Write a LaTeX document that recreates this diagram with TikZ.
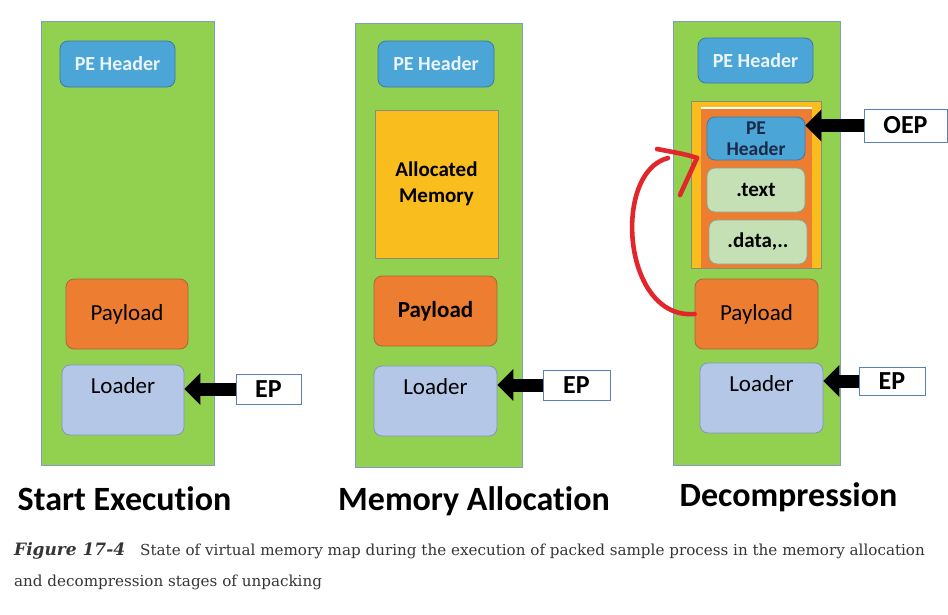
\documentclass[tikz,border=0pt]{standalone}
\usepackage{fontspec}
\setmainfont{Carlito}[Ligatures=NoCommon]
\newfontfamily\capfont{DejaVu Serif}
\usetikzlibrary{arrows.meta}
\definecolor{memgreen}{HTML}{92D050}
\definecolor{memframe}{HTML}{7F9DC4}
\definecolor{peblue}{HTML}{4BA5D6}
\definecolor{peborder}{HTML}{3B78A8}
\definecolor{payorange}{HTML}{ED7D31}
\definecolor{payborder}{HTML}{A9673A}
\definecolor{loadblue}{HTML}{B4C7E7}
\definecolor{loadborder}{HTML}{7F97BE}
\definecolor{allocyellow}{HTML}{F9BE1E}
\definecolor{allocborder}{HTML}{8C8C7A}
\definecolor{secgreen}{HTML}{C5E0B4}
\definecolor{secborder}{HTML}{8FA48A}
\definecolor{epborder}{HTML}{5B7FB8}
\definecolor{hdrtext}{HTML}{EAF5FB}
\definecolor{navytext}{HTML}{1B2A48}
\definecolor{handred}{HTML}{E2262B}
\definecolor{captext}{HTML}{353535}
\tikzset{
  memcol/.style={draw=memframe, fill=memgreen, line width=0.8pt, inner sep=0pt, minimum width=#1, minimum height=444pt},
  rbox/.style={draw, rounded corners=8pt, line width=0.8pt, inner sep=0pt, align=center},
  pehdr/.style={rbox, fill=peblue, draw=peborder, text=hdrtext, font=\fontsize{20}{22}\selectfont\bfseries, minimum width=115pt, minimum height=46pt},
  paybox/.style={rbox, fill=payorange, draw=payborder, font=\fontsize{23}{25}\selectfont, minimum width=122pt, minimum height=70pt},
  loadbox/.style={rbox, fill=loadblue, draw=loadborder, font=\fontsize{23}{25}\selectfont, minimum width=122pt, minimum height=70pt, text height=16pt, text depth=29pt},
  secbox/.style={rbox, fill=secgreen, draw=secborder, font=\fontsize{21}{23}\selectfont\bfseries, minimum width=98pt, minimum height=44pt},
  tagbox/.style={draw=epborder, fill=white, line width=0.8pt, inner sep=0pt, font=\fontsize{26}{28}\selectfont\bfseries},
  bigarrow/.style={line width=13pt, -{Triangle[length=16pt,width=31pt]}, black},
  title/.style={anchor=base, inner sep=0pt, font=\fontsize{34}{36}\selectfont\bfseries},
  redpen/.style={draw=handred, line width=4.6pt, line cap=round, line join=round}
}
\begin{document}
\begin{tikzpicture}[x=1pt,y=-1pt]
\useasboundingbox (0,0) rectangle (948,614);
% ---- Panel 1: Start Execution
\node[memcol=173pt] (green1) at (127.5,243) {};
\node[pehdr] (pe1) at (117.5,64) {PE Header};
\node[paybox] (pay1) at (127,314) {Payload};
\node[loadbox] (load1) at (123,400) {Loader};
\node[tagbox, minimum width=65pt, minimum height=30pt] (ep1) at (268.5,389) {EP};
\draw[bigarrow] (ep1.west) -- (ep1.west -| load1.east);
\node[title] (t1) at (124.5,510) {Start Execution};
% ---- Panel 2: Memory Allocation
\node[memcol=167pt] (green2) at (438.5,245) {};
\node[pehdr, minimum width=116pt] (pe2) at (436,64) {PE Header};
\node[draw=allocborder, fill=allocyellow, line width=0.8pt, inner sep=0pt, minimum width=123pt, minimum height=148pt, align=center, font=\fontsize{21}{26}\selectfont\bfseries] (alloc) at (436.5,184) {Allocated\\Memory};
\node[paybox, minimum width=123pt, font=\fontsize{23}{25}\selectfont\bfseries] (pay2) at (435.5,311) {Payload};
\node[loadbox, minimum width=123pt] (load2) at (435.5,401) {Loader};
\node[tagbox, minimum width=67pt, minimum height=30pt] (ep2) at (576.5,385) {EP};
\draw[bigarrow] (ep2.west) -- (ep2.west -| load2.east);
\node[title] (t2) at (474,510) {Memory Allocation};
% ---- Panel 3: Decompression
\node[memcol=167pt] (green3) at (756.5,243) {};
\node[pehdr, minimum height=45pt] (pe3) at (755.5,60.5) {PE Header};
\node[draw=allocborder, fill=allocyellow, line width=0.8pt, inner sep=0pt, minimum width=130pt, minimum height=167pt] (outer3) at (756,184.5) {};
\node[fill=payorange, inner sep=0pt, minimum width=111pt, minimum height=160pt] (image3) at (756.5,188) {};
\draw[white, line width=1.6pt] (image3.north west) -- (image3.north east);
\node[rbox, fill=peblue, draw=peborder, text=navytext, font=\fontsize{19.5}{23}\selectfont\bfseries, minimum width=98pt, minimum height=43pt] (pe3in) at (756,138.5) {PE\\[-2pt]Header};
\node[secbox] (text3) at (756,190) {.text};
\node[secbox] (data3) at (758,242) {.data,..};
\node[paybox, minimum width=123pt] (pay3) at (756.5,314) {Payload};
\node[loadbox, minimum width=123pt] (load3) at (761.5,398) {Loader};
\node[tagbox, minimum width=66pt, minimum height=28pt] (ep3) at (892,381) {EP};
\draw[bigarrow] (ep3.west) -- (ep3.west -| load3.east);
\node[tagbox, minimum width=83pt, minimum height=33pt] (oep) at (905.5,125.5) {OEP};
\draw[bigarrow] (oep.west) -- (oep.west -| pe3in.east);
\node[title] (t3) at (788.5,506) {Decompression};
% red hand-drawn arrow
\coordinate (redtip) at (697,158);
\coordinate (redhook) at (657,149);
\coordinate (redbarb) at (680,195);
\path[redpen] (pay3.west) .. controls (622,320) and (612,172) .. (668,158);
\path[redpen] (redhook) .. controls (672,152) and (686,154) .. (redtip);
\path[redpen] (redtip) -- (redbarb);
% ---- Caption
\node[anchor=base west, inner sep=0pt, text=captext, font=\capfont\fontsize{17}{20}\selectfont\bfseries\itshape] (figno) at (14,555) {Figure 17-4};
\node[anchor=base west, inner sep=0pt, text=captext, font=\capfont\fontsize{15.15}{17}\selectfont] (cap1) at (140,555) {State of virtual memory map during the execution of packed sample process in the memory allocation};
\node[anchor=base west, inner sep=0pt, text=captext, font=\capfont\fontsize{15.15}{17}\selectfont] (cap2) at (14,586) {and decompression stages of unpacking};
\end{tikzpicture}
\end{document}
